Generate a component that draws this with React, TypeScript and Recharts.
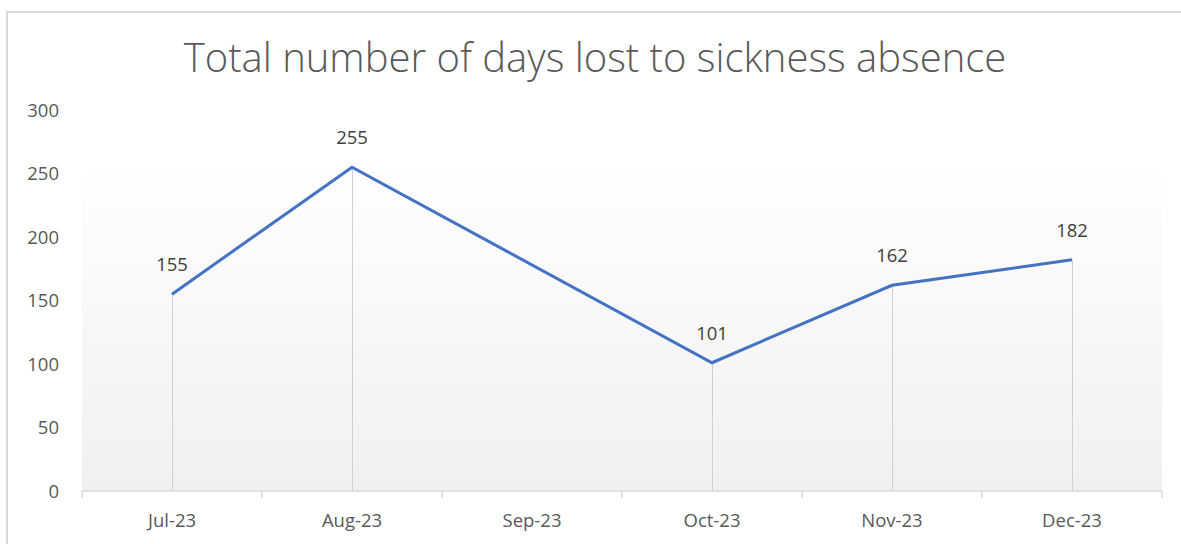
import React from 'react'
import { Bar, CartesianGrid, ComposedChart, LabelList, Line, XAxis, YAxis } from 'recharts'

const months = ['Jul-23', 'Aug-23', 'Sep-23', 'Oct-23', 'Nov-23', 'Dec-23']
const daysLost: (number | null)[] = [155, 255, null, 101, 162, 182]
const yTicks = [0, 50, 100, 150, 200, 250, 300]

const data = months.map((m, i) => ({ month: m, days: daysLost[i] }))

const FONT = "'Open Sans', 'Noto Sans', sans-serif"

const MonthTick = (props: any) => {
  const { x, y, payload, index } = props
  const half = payload && payload.offset ? payload.offset : 90
  return (
    <g>
      <line x1={x - half} x2={x - half} y1={y - 8} y2={y - 1} stroke='#d9d9d9' strokeWidth={1.5} />
      {index === months.length - 1 && (
        <line x1={x + half} x2={x + half} y1={y - 8} y2={y - 1} stroke='#d9d9d9' strokeWidth={1.5} />
      )}
      <text x={x} y={y + 28} textAnchor='middle' fill='#595959' fontSize={18.5} fontFamily={FONT}>
        {payload.value}
      </text>
    </g>
  )
}

export default function App() {
  return (
    <div style={{ position: 'absolute', left: 0, top: 0, width: 1181, height: 544, background: '#fff', overflow: 'hidden' }}>
      <div style={{ position: 'absolute', left: 6, top: 11, width: 1200, height: 560, borderLeft: '2px solid #d9d9d9', borderTop: '2px solid #d9d9d9' }} />
      <div style={{ position: 'absolute', left: 0, top: 29, width: 1190, textAlign: 'center', fontFamily: FONT, fontWeight: 300, fontSize: 40, color: '#595959', lineHeight: '56px' }}>
        Total number of days lost to sickness absence
      </div>
      <div style={{ position: 'absolute', left: 0, top: 0 }}>
        <ComposedChart width={1181} height={544} data={data} margin={{ top: 110, right: 19, bottom: 0, left: 0 }}>
          <defs>
            <linearGradient id='plotBg' x1='0' y1='0' x2='0' y2='1'>
              <stop offset='0%' stopColor='#ffffff' />
              <stop offset='12%' stopColor='#ffffff' />
              <stop offset='100%' stopColor='#f0f0f0' />
            </linearGradient>
          </defs>
          <CartesianGrid horizontal={false} vertical={false} fill='url(#plotBg)' />
          <XAxis dataKey='month' height={53} axisLine={{ stroke: '#d9d9d9', strokeWidth: 1.5 }} tickLine={false} tick={<MonthTick />} interval={0} />
          <YAxis width={82} domain={[0, 300]} ticks={yTicks} axisLine={false} tickLine={false} tickMargin={17}
            tick={{ fill: '#595959', fontSize: 18.5, fontFamily: FONT }} />
          <Bar dataKey='days' barSize={1} fill='#d0d0d0' isAnimationActive={false} />
          <Line type='linear' dataKey='days' stroke='#4472c4' strokeWidth={3} dot={false} connectNulls isAnimationActive={false}>
            <LabelList dataKey='days' position='top' offset={23} fill='#404040' fontSize={18.5} fontFamily={FONT} />
          </Line>
        </ComposedChart>
      </div>
    </div>
  )
}
